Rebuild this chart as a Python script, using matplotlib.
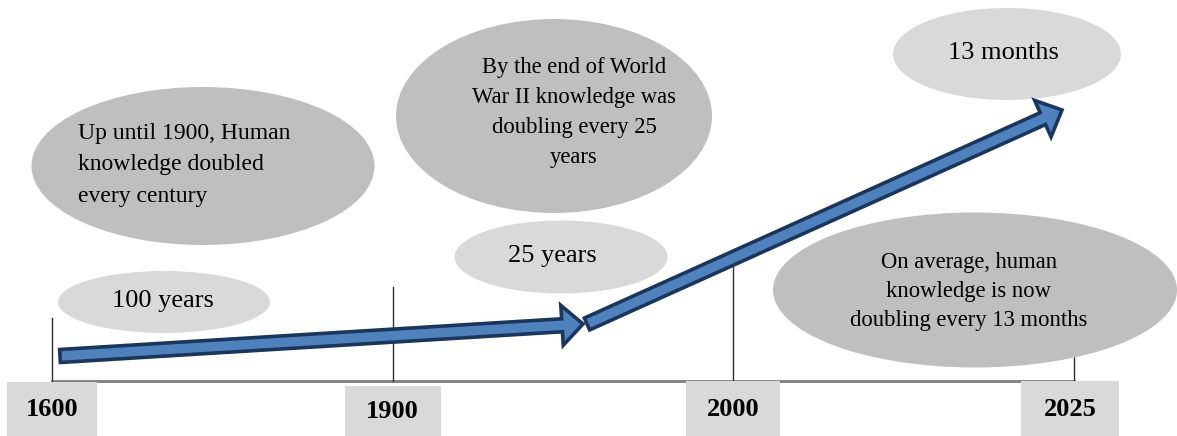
import matplotlib
matplotlib.use("Agg")
import matplotlib.pyplot as plt
from matplotlib.patches import Ellipse, Rectangle, FancyArrow
import numpy as np

# timeline content
years = ["1600", "1900", "2000", "2025"]
doubling_times = ["100 years", "25 years", "13 months"]
note_1900 = ["Up until 1900, Human", "knowledge doubled", "every century"]
note_ww2 = ["By the end of World", "War II knowledge was", "doubling every 25", "years"]
note_now = ["On average, human", "knowledge is now", "doubling every 13 months"]

# colours
LIGHT = "#d9d9d9"
DARK = "#bfbfbf"
BLUE = "#4f81bd"
NAVY = "#1b365d"

plt.rcParams['font.family'] = ['Liberation Serif', 'DejaVu Serif']

fig = plt.figure(figsize=(11.77, 4.36), dpi=100)
ax = fig.add_axes([0, 0, 1, 1])
ax.set_xlim(0, 1177)
ax.set_ylim(436, 0)
ax.axis('off')

# year ticks, evenly spaced along the baseline
tick_x = np.linspace(52, 1074, len(years))
tick_top = [318, 287, 262, 340]
base_y = 381
ax.plot([tick_x[0], tick_x[-1]], [base_y, base_y], color="#7f7f7f", lw=2, zorder=1)
for x, top in zip(tick_x, tick_top):
    ax.plot([x, x], [top, base_y], color="#303030", lw=1, zorder=1)

# year boxes
box_w = [90, 96, 94, 98]
box_top = [382, 386, 381, 381]
for x, w, top, yr in zip(tick_x, box_w, box_top, years):
    xc = x - 4 if yr == "2025" else x
    ax.add_patch(Rectangle((xc - w / 2, top), w, 436 - top, fc=LIGHT, ec="none", zorder=2))
    ax.text(xc, (top + 436) / 2 + 0.5, yr, ha='center', va='center', fontsize=19,
            fontweight='bold', zorder=3)

# big note ellipses
ax.add_patch(Ellipse((203, 166), 343, 158, fc=DARK, ec="none", zorder=2))
ax.add_patch(Ellipse((554, 116), 316, 194, fc=DARK, ec="none", zorder=2))
ax.add_patch(Ellipse((975, 290), 404, 155, fc=DARK, ec="none", zorder=2))

for line, y in zip(note_1900, [133, 164, 196]):
    ax.text(78, y, line, ha='left', va='center', fontsize=17, zorder=3)
for line, y in zip(note_ww2, [67, 97, 127, 157]):
    ax.text(574, y, line, ha='center', va='center', fontsize=16.3, zorder=3)
for line, y in zip(note_now, [262, 291, 320]):
    ax.text(969, y, line, ha='center', va='center', fontsize=16.3, zorder=3)

# doubling time bubbles
bub_xy = [(164, 302), (561, 257), (1007, 54)]
bub_wh = [(212, 62), (213, 73), (228, 92)]
txt_x = [163, 552, 1003]
for (cx, cy), (w, h), tx, lab in zip(bub_xy, bub_wh, txt_x, doubling_times):
    ax.add_patch(Ellipse((cx, cy), w, h, fc=LIGHT, ec="none", zorder=2))
    ax.text(tx, cy - 1, lab, ha='center', va='center', fontsize=19, zorder=3)

# growth arrows
arrows = [((60, 356), (583, 324)), ((587, 324), (1062, 110))]
for (x0, y0), (x1, y1) in arrows:
    ax.add_patch(FancyArrow(x0, y0, x1 - x0, y1 - y0, width=13, head_width=40,
                            head_length=21, length_includes_head=True,
                            fc=BLUE, ec=NAVY, lw=2.6, joinstyle='miter', zorder=4))

fig.savefig("out.png", dpi=100)
